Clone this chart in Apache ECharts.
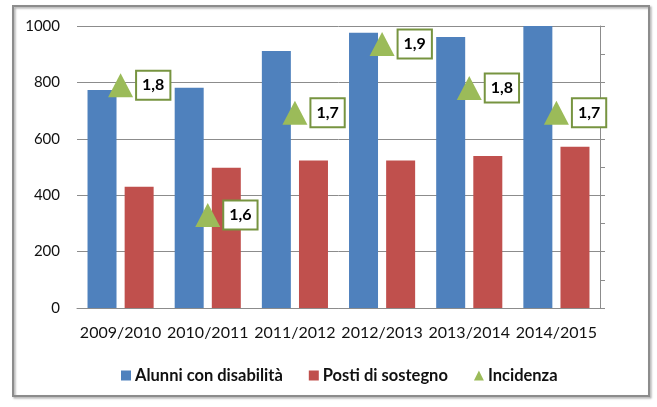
<!DOCTYPE html>
<html>
<head>
<meta charset="utf-8">
<script src="https://cdn.jsdelivr.net/npm/echarts@6/dist/echarts.min.js"></script>
<style>
html,body{margin:0;padding:0;background:#fff;}
#c{width:657px;height:407px;}
</style>
</head>
<body>
<div id="c"></div>
<script>
const categories = ['2009/2010','2010/2011','2011/2012','2012/2013','2013/2014','2014/2015'];
const alunni = [773, 781, 911, 976, 961, 1000];
const posti = [430, 497, 523, 523, 539, 572];
const incidenza = [1.795, 1.565, 1.746, 1.868, 1.79, 1.746];
const leftTicks = {min: 0, max: 1000, interval: 200};
const rightTicks = {min: 1.4, max: 1.9, interval: 0.05};

const FONT = 'Lato';
const chart = echarts.init(document.getElementById('c'), null, {renderer: 'canvas'});
chart.setOption({
  animation: false,
  backgroundColor: '#fff',
  textStyle: {fontFamily: FONT},
  graphic: [{
    type: 'rect',
    shape: {x: 13, y: 6, width: 636, height: 390},
    style: {fill: 'none', stroke: '#8c8c8c', lineWidth: 2,
      shadowColor: 'rgba(0,0,0,0.35)', shadowBlur: 2, shadowOffsetX: 1.5, shadowOffsetY: 1.5},
    z: -1
  }],
  grid: {left: 77, right: 57, top: 26, bottom: 99},
  legend: {
    left: 116, top: 362,
    itemWidth: 10, itemHeight: 10, itemGap: 26,
    textStyle: {fontFamily: FONT, fontWeight: 'bold', fontSize: 16.5, color: '#111', padding: [0,0,0,-1]},
    data: [
      {name: 'Alunni con disabilità', icon: 'rect'},
      {name: 'Posti di sostegno', icon: 'rect'},
      {name: 'Incidenza', icon: 'triangle'}
    ]
  },
  xAxis: {
    type: 'category',
    data: categories,
    axisLine: {lineStyle: {color: '#8c8c8c', width: 1}},
    axisTick: {show: false},
    axisLabel: {interval: 0, fontFamily: FONT, fontSize: 16, color: '#111', margin: 17}
  },
  yAxis: [{
    type: 'value',
    min: leftTicks.min, max: leftTicks.max, interval: leftTicks.interval,
    axisLine: {show: false},
    axisTick: {show: false},
    axisLabel: {fontFamily: FONT, fontSize: 15, color: '#111', margin: 17, formatter: v => String(v)},
    splitLine: {lineStyle: {color: '#8c8c8c', width: 1}}
  }, {
    type: 'value',
    position: 'right',
    min: rightTicks.min, max: rightTicks.max, interval: rightTicks.interval,
    axisLine: {show: true, lineStyle: {color: '#8c8c8c', width: 1}},
    axisTick: {show: true, inside: false, length: 5, lineStyle: {color: '#8c8c8c'}},
    axisLabel: {show: false},
    splitLine: {show: false}
  }],
  series: [{
    name: 'Alunni con disabilità',
    type: 'bar',
    data: alunni,
    itemStyle: {color: '#4F81BD'},
    barWidth: 29,
    barGap: '28%'
  }, {
    name: 'Posti di sostegno',
    type: 'bar',
    data: posti,
    itemStyle: {color: '#C0504D'},
    barWidth: 29
  }, {
    name: 'Incidenza',
    type: 'line',
    yAxisIndex: 1,
    data: incidenza,
    symbol: 'triangle',
    symbolSize: [25, 24],
    lineStyle: {width: 0, opacity: 0},
    itemStyle: {color: '#9BBB59'},
    z: 5,
    label: {
      show: true,
      position: 'right',
      distance: 4,
      formatter: p => p.value.toFixed(1).replace('.', ','),
      fontFamily: FONT, fontWeight: 'bold', fontSize: 16, color: '#000',
      backgroundColor: '#fff',
      borderColor: '#779440', borderWidth: 2,
      padding: [6, 5, 5, 5],
      lineHeight: 16
    }
  }]
});
</script>
</body>
</html>
